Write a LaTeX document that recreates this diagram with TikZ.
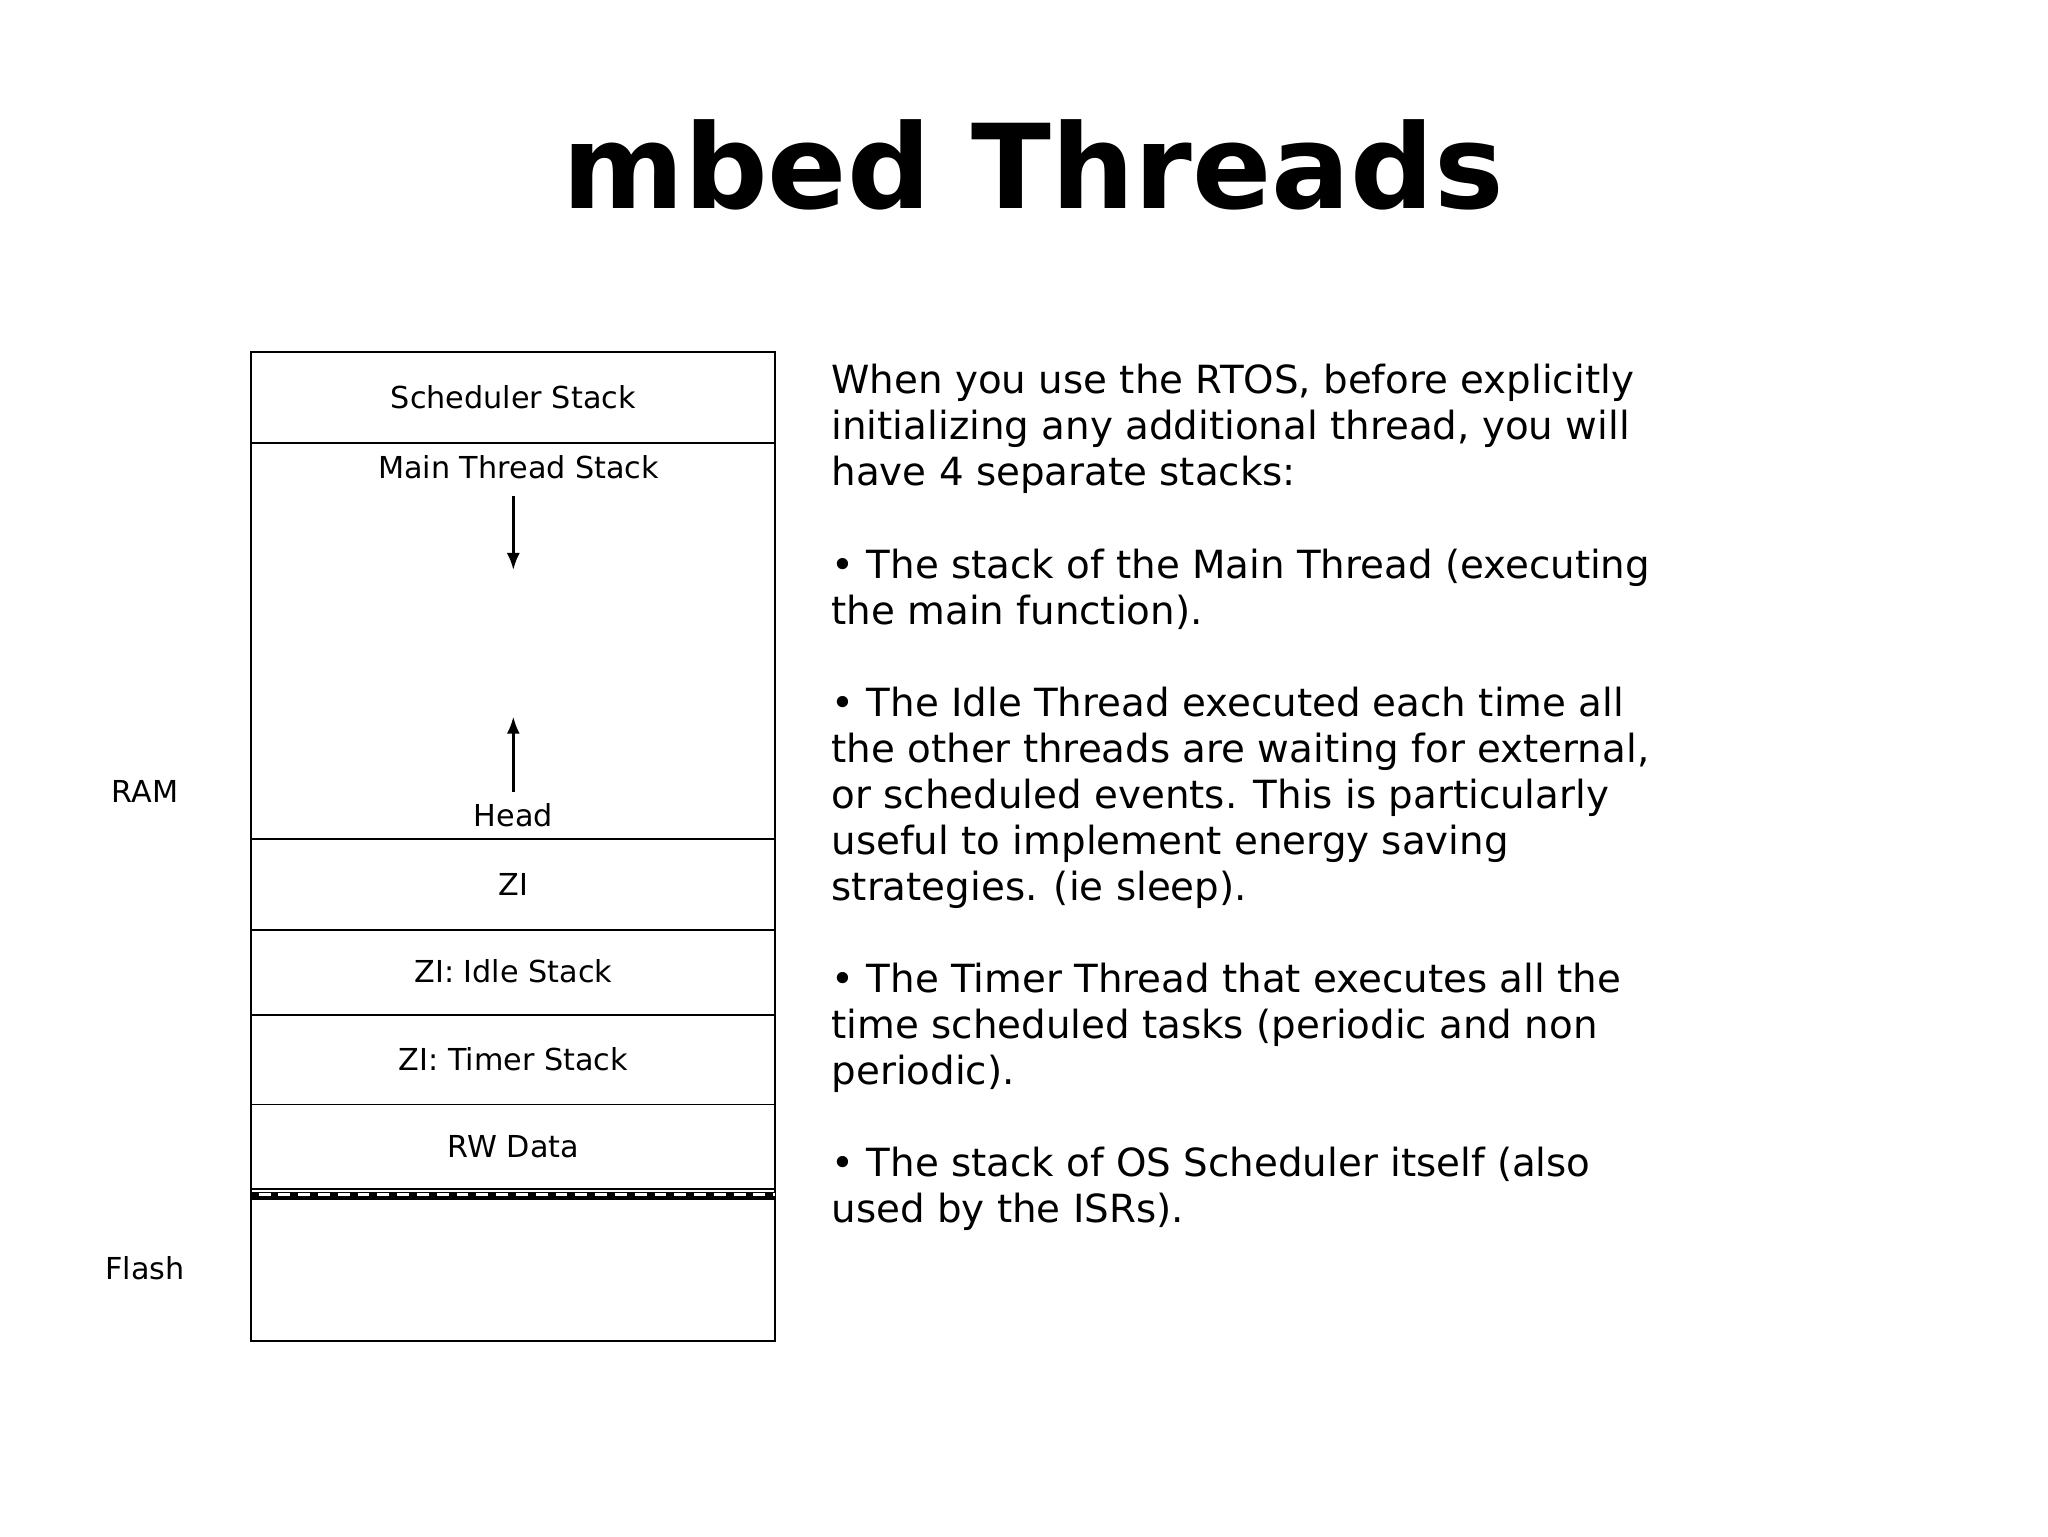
\documentclass[tikz,border=0pt]{standalone}
\usepackage{fontspec}
\setmainfont{DejaVu Sans}
\usetikzlibrary{arrows.meta}
\begin{document}
\begin{tikzpicture}[x=1bp,y=-1bp,
  box/.style={draw,line width=1.4bp},
  lbl/.style={font=\fontsize{23}{27}\selectfont},
  arr/.style={-{Latex[length=13bp,width=10bp]},line width=2.2bp}]
\useasboundingbox (0,0) rectangle (1552,1164);
\node[font=\bfseries\fontsize{89}{100}\selectfont] (title) at (783,125) {mbed Threads};
\draw[box] (190,267) rectangle (587,1016);
\foreach \y in {336,636,705,769,837} \draw[box] (190,\y) -- (587,\y);
\draw[line width=1.4bp] (190,901) -- (587,901);
\draw[line width=6bp] (190,906) -- (587,906);
\draw[white,line width=2.5bp,dash pattern=on 9bp off 6bp] (196,905) -- (587,905);
\node[lbl] (s1) at (389,301) {Scheduler Stack};
\node[lbl] (s2) at (393,354) {Main Thread Stack};
\coordinate (a1) at (389,376); \coordinate (a2) at (389,432);
\draw[arr] (a1) -- (a2);
\coordinate (b1) at (389,600); \coordinate (b2) at (389,543);
\draw[arr] (b1) -- (b2);
\node[lbl] (hd) at (389,618) {Head};
\node[lbl] (zi) at (389,670) {ZI};
\node[lbl] (zs) at (389,736) {ZI: Idle Stack};
\node[lbl] (ts) at (389,803) {ZI: Timer Stack};
\node[lbl] (rw) at (389,869) {RW Data};
\node[lbl] (ram) at (110,600) {RAM};
\node[lbl] (fl) at (110,961) {Flash};
\node[anchor=north west,align=left,inner sep=0,font=\fontsize{29.5}{35}\selectfont] (txt) at (630,276) {%
When you use the RTOS, before explicitly\\
initializing any additional thread, you will\\
have 4 separate stacks:\\[35bp]
• The stack of the Main Thread (executing\\
the main function).\\[35bp]
• The Idle Thread executed each time all\\
the other threads are waiting for external,\\
or scheduled events. This is particularly\\
useful to implement energy saving\\
strategies. (ie sleep).\\[35bp]
• The Timer Thread that executes all the\\
time scheduled tasks (periodic and non\\
periodic).\\[35bp]
• The stack of OS Scheduler itself (also\\
used by the ISRs).};
\end{tikzpicture}
\end{document}
